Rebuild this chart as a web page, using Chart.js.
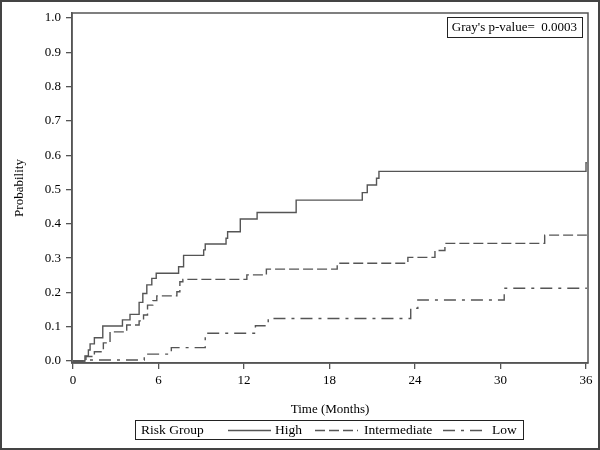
<!DOCTYPE html>
<html>
<head>
<meta charset="utf-8">
<script src="https://cdn.jsdelivr.net/npm/chart.js@4.4.1/dist/chart.umd.min.js"></script>
<style>
html,body{margin:0;padding:0;background:#fff;}
canvas{display:block;}
</style>
</head>
<body>
<canvas id="c" width="600" height="450"></canvas>
<script>
// ---- Data ----
const highTime = [0, 0.84, 1.08, 1.2, 1.5, 2.09, 3.47, 4.0, 4.64, 4.9, 5.18, 5.53, 5.84, 7.41, 7.76, 9.17, 9.28, 10.74, 10.85, 11.74, 12.92, 15.66, 20.3, 20.65, 21.3, 21.47, 36.0, 36.06];
const highProb = [0, 0.015, 0.032, 0.05, 0.068, 0.102, 0.12, 0.136, 0.171, 0.197, 0.222, 0.241, 0.256, 0.275, 0.308, 0.324, 0.341, 0.358, 0.377, 0.414, 0.433, 0.469, 0.491, 0.513, 0.533, 0.553, 0.578, 0.578];

const intTime = [0, 0.91, 1.5, 2.13, 2.6, 3.77, 4.64, 4.95, 5.23, 5.6, 5.88, 7.29, 7.5, 7.71, 12.2, 13.57, 18.54, 23.5, 25.4, 26.1, 33.1, 36.06];
const intProb = [0, 0.013, 0.027, 0.053, 0.085, 0.105, 0.117, 0.134, 0.163, 0.176, 0.19, 0.202, 0.231, 0.238, 0.251, 0.268, 0.285, 0.302, 0.322, 0.343, 0.367, 0.367];

const lowTime = [0, 1.0, 5.0, 6.9, 9.28, 12.8, 13.7, 23.7, 24.2, 30.26, 36.06];
const lowProb = [0, 0.003, 0.02, 0.039, 0.081, 0.103, 0.124, 0.154, 0.178, 0.212, 0.212];

const xTicks = [0, 6, 12, 18, 24, 30, 36];
const yTicks = [0, 0.1, 0.2, 0.3, 0.4, 0.5, 0.6, 0.7, 0.8, 0.9, 1.0];

const groupNames = ['High', 'Intermediate', 'Low'];
const legendTitle = 'Risk Group';
const pValueText = "Gray's p-value=  0.0003";

// ---- Styling ----
const FONT = '"Liberation Serif", "Times New Roman", serif';
const LINE_COLOR = '#555';
const FRAME_COLOR = '#555';
const dashes = [[], [10, 4], [12, 6, 3, 6]];

const toPts = (t, p) => t.map((x, i) => ({x: x, y: p[i]}));
const seriesData = [toPts(highTime, highProb), toPts(intTime, intProb), toPts(lowTime, lowProb)];

const decorPlugin = {
  id: 'decor',
  afterDraw(chart) {
    const ctx = chart.ctx;
    const a = chart.chartArea;
    ctx.save();
    // plot frame
    ctx.strokeStyle = FRAME_COLOR;
    ctx.lineWidth = 1.5;
    ctx.strokeRect(a.left, a.top, a.right - a.left, a.bottom - a.top);
    // outer border
    ctx.strokeStyle = '#444';
    ctx.lineWidth = 2;
    ctx.strokeRect(1, 1, 598, 448);

    // p-value box
    ctx.font = '13px ' + FONT;
    ctx.fillStyle = '#000';
    ctx.textBaseline = 'middle';
    ctx.textAlign = 'left';
    const pw = ctx.measureText(pValueText).width;
    const bx2 = 582, bx1 = bx2 - pw - 10;
    ctx.strokeStyle = '#222';
    ctx.lineWidth = 1;
    ctx.strokeRect(Math.round(bx1) + 0.5, 17.5, Math.round(bx2 - bx1), 20);
    ctx.fillText(pValueText, bx1 + 5, 28);

    // legend
    const ly = 430.5;
    ctx.font = '13.5px ' + FONT;
    ctx.strokeStyle = '#222';
    ctx.lineWidth = 1;
    ctx.strokeRect(135.5, 420.5, 388, 19);
    ctx.fillText(legendTitle, 141, ly);
    const sampleX = [228, 315, 443];
    const labelX = [275, 364, 492];
    for (let i = 0; i < 3; i++) {
      ctx.beginPath();
      ctx.setLineDash(dashes[i]);
      ctx.strokeStyle = LINE_COLOR;
      ctx.lineWidth = 1.3;
      ctx.moveTo(sampleX[i], ly);
      ctx.lineTo(sampleX[i] + 43, ly);
      ctx.stroke();
      ctx.setLineDash([]);
      ctx.fillText(groupNames[i], labelX[i], ly);
    }
    ctx.restore();
  }
};

new Chart(document.getElementById('c'), {
  type: 'line',
  data: {
    datasets: seriesData.map((d, i) => ({
      label: groupNames[i],
      data: d,
      borderColor: LINE_COLOR,
      borderWidth: 1.4,
      borderDash: dashes[i],
      pointRadius: 0,
      stepped: true,
      fill: false
    }))
  },
  options: {
    responsive: false,
    devicePixelRatio: 1,
    animation: false,
    layout: {padding: {left: 0, top: 13, right: 12, bottom: 0}},
    plugins: {legend: {display: false}, tooltip: {enabled: false}},
    scales: {
      x: {
        type: 'linear',
        min: -0.07,
        max: 36.14,
        afterBuildTicks: s => { s.ticks = xTicks.map(v => ({value: v})); },
        afterFit: s => { s.height = 87; },
        ticks: {
          font: {family: FONT, size: 13}, color: '#000', padding: 4,
          maxRotation: 0, autoSkip: false,
          callback: v => String(v)
        },
        grid: {display: true, drawOnChartArea: false, drawTicks: true, tickLength: 6, color: FRAME_COLOR, lineWidth: 1.3},
        border: {display: true, color: FRAME_COLOR, width: 1.5},
        title: {display: true, text: 'Time (Months)', font: {family: FONT, size: 13}, color: '#000', padding: {top: 0, bottom: 33}}
      },
      y: {
        type: 'linear',
        min: -0.0058,
        max: 1.0146,
        afterBuildTicks: s => { s.ticks = yTicks.map(v => ({value: v})); },
        afterFit: s => { s.width = 72; },
        ticks: {
          font: {family: FONT, size: 13}, color: '#000', padding: 5,
          autoSkip: false,
          callback: v => Number(v).toFixed(1)
        },
        grid: {display: true, drawOnChartArea: false, drawTicks: true, tickLength: 6, color: FRAME_COLOR, lineWidth: 1.3},
        border: {display: true, color: FRAME_COLOR, width: 1.5},
        title: {display: true, text: 'Probability', font: {family: FONT, size: 13}, color: '#000', padding: {top: 12, bottom: 0}}
      }
    }
  },
  plugins: [decorPlugin]
});
</script>
</body>
</html>
